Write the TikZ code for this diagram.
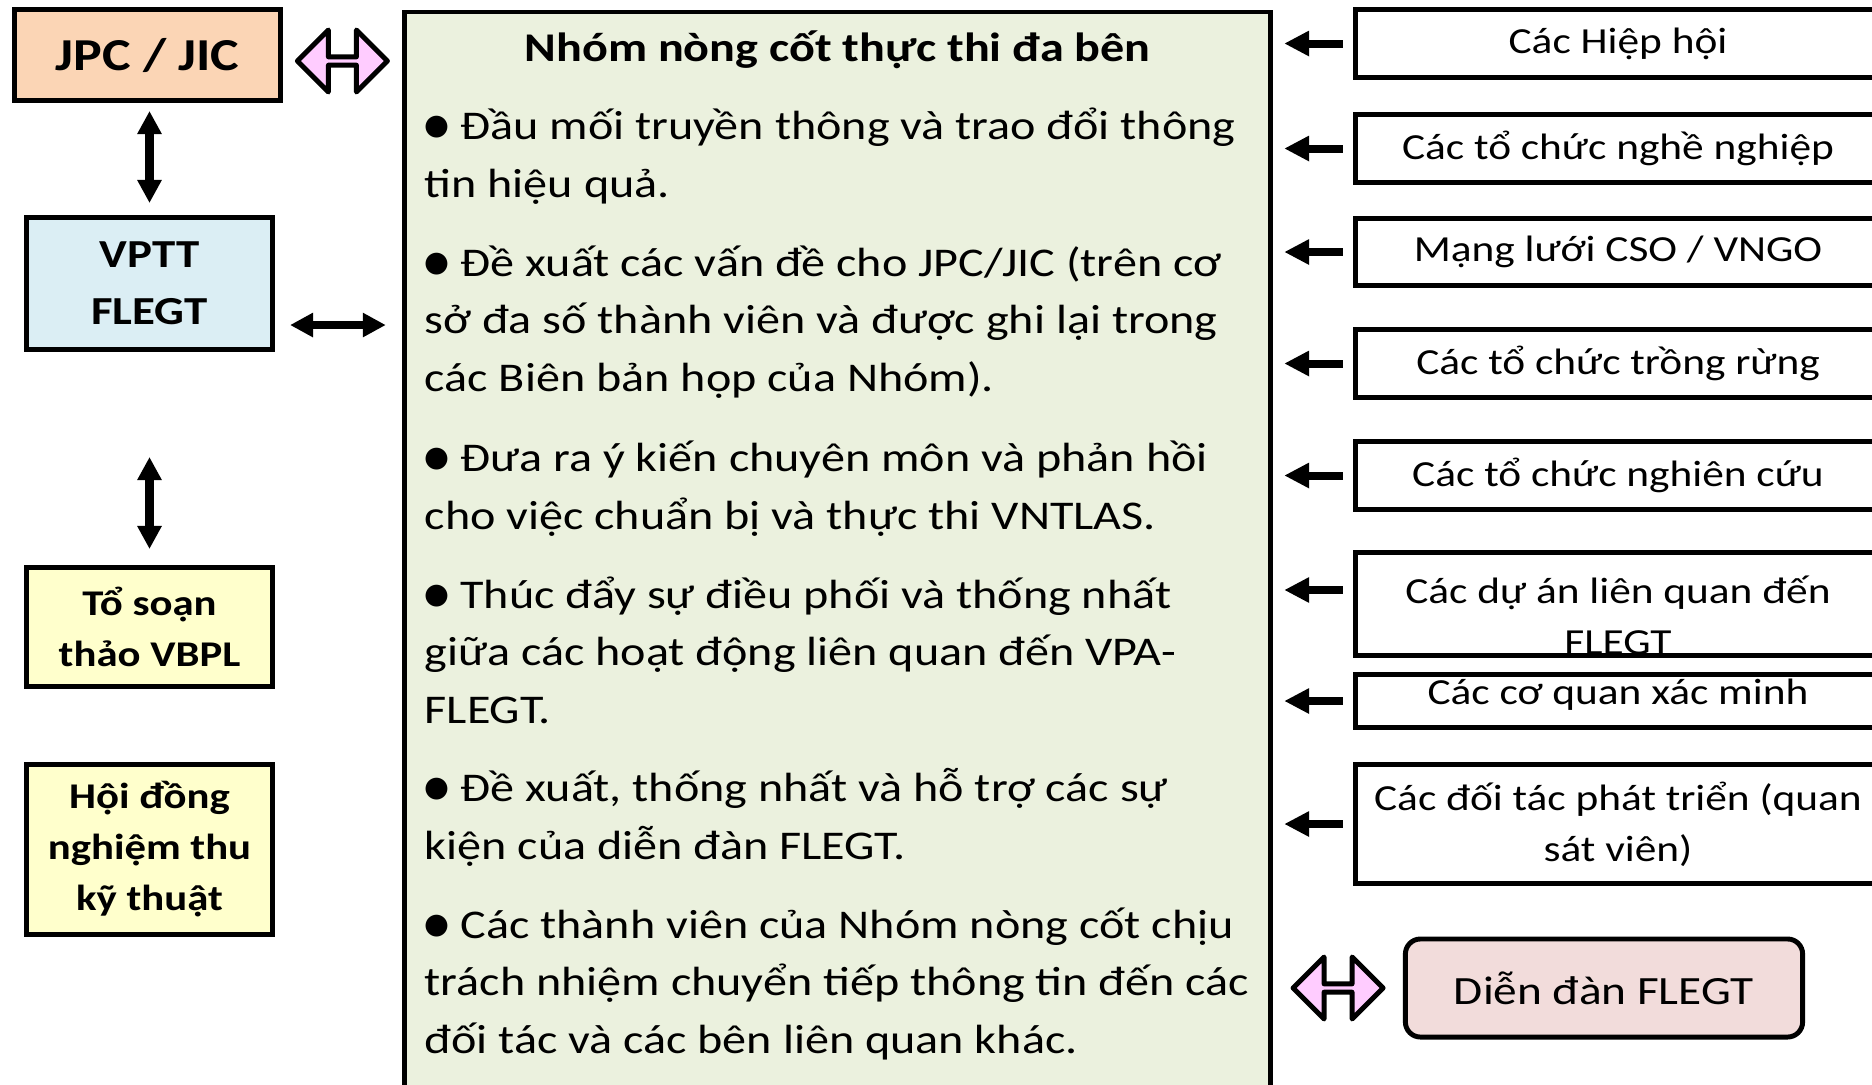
\documentclass[tikz,border=0pt]{standalone}
\usepackage{fontspec}
\setmainfont{Carlito}[FakeStretch=1.18]
\newfontfamily\bulletfont{DejaVu Sans}
\usetikzlibrary{arrows.meta, shapes.arrows, calc, positioning}
\definecolor{jpcorange}{RGB}{251,213,181}
\definecolor{vpttblue}{RGB}{219,238,244}
\definecolor{draftyellow}{RGB}{255,255,204}
\definecolor{coregreen}{RGB}{235,241,222}
\definecolor{forumpink}{RGB}{242,220,219}
\definecolor{linkpink}{RGB}{255,204,255}
\newcommand{\bul}{{\bulletfont\raisebox{0.12em}{\scalebox{0.7}{●}}}}

\begin{document}
\begin{tikzpicture}[x=0.01cm, y=-0.01cm]
        \tikzstyle{box}=[draw, line width=1.4pt, inner sep=0pt, align=center]
        \tikzstyle{leftbox}=[box, minimum width=2.46cm, font=\bfseries\fontsize{10.3}{14.5}\selectfont]
        \tikzstyle{partner}=[box, minimum width=5.25cm, font=\fontsize{10.45}{14.5}\selectfont]
        \tikzstyle{duty}=[anchor=base west, inner sep=0pt, align=left, font=\fontsize{11.6}{16.35}\selectfont]
        \tikzstyle{feed}=[line width=0.08cm, -{Triangle[length=0.25cm,width=0.24cm]}, shorten <=0.1cm, shorten >=0.11cm]
        \tikzstyle{link}=[line width=0.08cm, {Triangle[length=0.23cm,width=0.23cm]}-{Triangle[length=0.23cm,width=0.23cm]}]
        \tikzstyle{pinklink}=[double arrow, draw, fill=linkpink, line width=1.4pt, line join=round, inner sep=0pt, minimum height=0.9cm, minimum width=0.62cm, double arrow head extend=0.16cm]

        \useasboundingbox (0,0) rectangle (1872,1084);

        % Left column
        \node[box, fill=jpcorange, minimum width=2.66cm, minimum height=0.91cm, font=\bfseries\fontsize{13}{16}\selectfont] (jpc) at (147.5,55) {JPC / JIC};
        \node[leftbox, fill=vpttblue, minimum height=1.32cm, font=\bfseries\fontsize{11.3}{16.2}\selectfont] (vptt) at (149.5,283.5) {VPTT\\FLEGT};
        \node[leftbox, fill=draftyellow, minimum height=1.19cm] (draft) at (149.5,627) {Tổ soạn\\thảo VBPL};
        \node[leftbox, fill=draftyellow, minimum height=1.70cm] (council) at (149.5,849.5) {Hội đồng\\nghiệm thu\\kỹ thuật};

        % Core group box (base of each duty = its last line)
        \node[box, fill=coregreen, minimum width=8.66cm, minimum height=11cm, anchor=north] (core) at (837.5,9.5) {};
        \node[anchor=base, font=\bfseries\fontsize{11.6}{14}\selectfont] (coretitle) at (837.5,61) {Nhóm nòng cốt thực thi đa bên};
        \node[duty] (p1) at (424,197) {\bul{} Đầu mối truyền thông và trao đổi thông\\tin hiệu quả.};
        \node[duty] (p2) at (424,391) {\bul{} Đề xuất các vấn đề cho JPC/JIC (trên cơ\\sở đa số thành viên và được ghi lại trong\\các Biên bản họp của Nhóm).};
        \node[duty] (p3) at (424,529) {\bul{} Đưa ra ý kiến chuyên môn và phản hồi\\cho việc chuẩn bị và thực thi VNTLAS.};
        \node[duty] (p4) at (424,723) {\bul{} Thúc đẩy sự điều phối và thống nhất\\giữa các hoạt động liên quan đến VPA-\\FLEGT.};
        \node[duty] (p5) at (424,859) {\bul{} Đề xuất, thống nhất và hỗ trợ các sự\\kiện của diễn đàn FLEGT.};
        \node[duty] (p6) at (424,1053) {\bul{} Các thành viên của Nhóm nòng cốt chịu\\trách nhiệm chuyển tiếp thông tin đến các\\đối tác và các bên liên quan khác.};

        % Right column
        \node[partner, minimum height=0.68cm] (assoc) at (1618,43.5) {Các Hiệp hội};
        \node[partner, minimum height=0.68cm] (prof) at (1618,148.5) {Các tổ chức nghề nghiệp};
        \node[partner, minimum height=0.67cm] (cso) at (1618,252) {Mạng lưới CSO / VNGO};
        \node[partner, minimum height=0.68cm] (plant) at (1618,363.5) {Các tổ chức trồng rừng};
        \node[partner, minimum height=0.68cm] (research) at (1618,475.5) {Các tổ chức nghiên cứu};
        \node[partner, minimum height=1.03cm] (project) at (1618,604) {\rule{0pt}{0.5cm}Các dự án liên quan đến\\FLEGT};
        \node[partner, minimum height=0.53cm] (verify) at (1618,701) {\rule[-0.18cm]{0pt}{0pt}Các cơ quan xác minh};
        \node[partner, minimum height=1.19cm] (donor) at (1618,824) {Các đối tác phát triển (quan\\sát viên)};
        \node[box, rounded corners=0.15cm, fill=forumpink, minimum width=3.97cm, minimum height=0.98cm, font=\fontsize{11.4}{14}\selectfont] (forum) at (1604,988) {Diễn đàn FLEGT};

        % Links on the left
        \draw[link, shorten <=0.08cm, shorten >=0.12cm] (vptt.north |- jpc.south) -- (vptt.north);
        \coordinate (draftlink) at (149.5,457);
        \draw[link, shorten >=0.16cm] (draftlink) -- (draft.north);
        \coordinate (vpttout) at ([yshift=-0.415cm]vptt.east);
        \draw[link, shorten <=0.15cm, shorten >=0.16cm] (vpttout) -- (vpttout -| core.west);
        \node[pinklink, yshift=-0.06cm] (jpclink) at ($(jpc.east)!0.5!(jpc.east -| core.west)$) {};

        % Partners feeding the core group
        \foreach \n in {assoc, prof, cso, plant, research, verify, donor}
            \draw[feed] (\n.west) -- (\n.west -| core.east);
        \draw[feed] ([yshift=0.14cm]project.west) -- ([yshift=0.14cm]project.west -| core.east);
        \node[pinklink] (forumlink) at ($(core.east |- forum.west)!0.5!(forum.west)$) {};
\end{tikzpicture}
\end{document}
